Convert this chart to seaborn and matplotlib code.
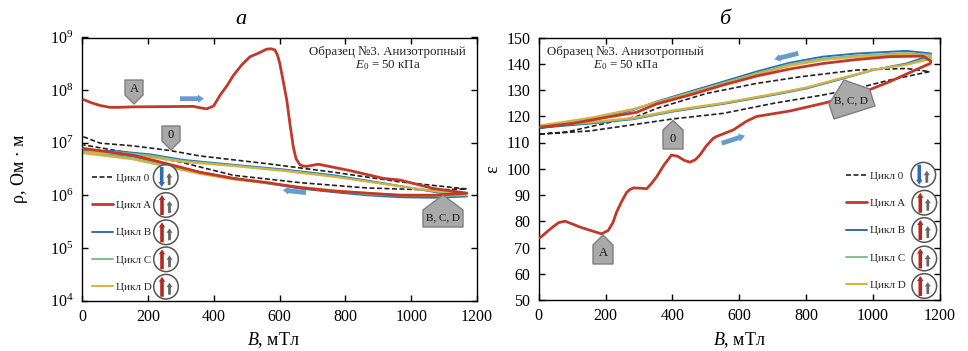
import matplotlib
matplotlib.use("Agg")
import matplotlib.pyplot as plt
import seaborn as sns
from matplotlib.patches import Circle, FancyArrow, Polygon

sns.set_theme(style="ticks")
plt.rcParams['font.family'] = ['Liberation Serif', 'DejaVu Serif']
plt.rcParams['mathtext.fontset'] = 'custom'
plt.rcParams['mathtext.rm'] = 'Liberation Serif'
plt.rcParams['mathtext.it'] = 'Liberation Serif:italic'

W, H = 968, 351

# --- панель а: rho(B) ---
rho_b_a = [5, 30, 55, 85, 110, 155, 338, 360, 379, 400, 420, 440, 460, 485, 510, 535, 561, 575, 586, 594, 601, 612, 622,
           632, 642, 650, 662, 672, 683, 718, 814, 915, 966, 1067, 1169,
           1067, 966, 865, 764, 662, 561, 460, 358, 257, 156, 4]
rho_a = [6.6e7, 5.7e7, 5.1e7, 4.7e7, 4.7e7, 4.8e7, 4.9e7, 4.6e7, 4.4e7, 5e7, 8.1e7, 1.2e8, 1.9e8, 3.0e8, 4.3e8, 5.0e8,
         6.0e8, 6.1e8, 5.8e8, 4.6e8, 3.2e8, 1.4e8, 6.5e7, 2.2e7, 8.3e6, 5e6, 3.8e6, 3.6e6, 3.55e6,
         3.9e6, 2.95e6, 2.1e6, 1.95e6, 1.35e6, 1.1e6,
         1.0e6, 1.0e6, 1.1e6, 1.2e6, 1.4e6, 1.75e6, 2.1e6, 2.75e6, 4e6, 5.75e6, 7.8e6]

rho_b_0 = [4, 55, 156, 267, 358, 561, 764, 966, 1169, 1067, 865, 662, 460, 298, 156, 55, 4]
rho_0 = [1.3e7, 9.8e6, 8.7e6, 7.1e6, 5.6e6, 4e6, 2.75e6, 1.8e6, 1.32e6,
         1.26e6, 1.38e6, 1.74e6, 2.4e6, 4.3e6, 6.2e6, 8e6, 9.1e6]

rho_b_loop = [4, 105, 207, 308, 460, 612, 764, 915, 1067, 1169, 1067, 966, 865, 764, 662, 561, 460, 358, 257, 156, 4]
rho_bb = [7.1e6, 6.9e6, 6e6, 4.7e6, 3.8e6, 3.1e6, 2.4e6, 1.7e6, 1.17e6, 0.95e6,
          0.9e6, 0.92e6, 1.0e6, 1.15e6, 1.35e6, 1.7e6, 2.1e6, 2.75e6, 3.9e6, 5.4e6, 7.0e6]
rho_c = [6.8e6, 6.6e6, 5.7e6, 4.5e6, 3.7e6, 3.0e6, 2.3e6, 1.65e6, 1.2e6, 1.0e6,
         0.97e6, 0.98e6, 1.05e6, 1.2e6, 1.4e6, 1.7e6, 2.05e6, 2.65e6, 3.7e6, 5.1e6, 6.6e6]
rho_d = [6.5e6, 6.2e6, 5.3e6, 4.3e6, 3.6e6, 2.9e6, 2.25e6, 1.65e6, 1.22e6, 1.05e6,
         1.02e6, 1.03e6, 1.1e6, 1.25e6, 1.45e6, 1.7e6, 2.0e6, 2.55e6, 3.5e6, 4.8e6, 6.3e6]

# --- панель б: eps(B) ---
eps_b_a = [4, 25, 44, 60, 79, 100, 123, 155, 188, 208, 222, 233, 248, 263, 272, 283, 303, 323, 338, 353, 375, 397, 415,
           435, 452, 468, 482, 500, 522, 532, 582, 620, 651, 751, 850, 950, 1050,
           1149, 1171, 1173, 1149, 1050, 950, 850, 751, 651, 552, 452, 353, 293, 203, 104, 4]
eps_a = [73.7, 76, 78, 79.5, 80, 79, 77.8, 76.5, 75.2, 76.5, 79.5, 83.5, 87.5, 91, 92, 92.7, 92.6, 92.4, 94.5, 97, 101.5,
         105.2, 104.8, 103.2, 102.5, 103.4, 105.2, 108.5, 111.6, 112.3, 114.8, 118, 119.9, 122,
         124.9, 128.1, 133.2, 138.9, 140.1, 141, 142.9, 142.7, 141.6, 140.1, 138, 135.3, 131.9, 128.1, 124.7, 121.5,
         119.6, 117.3, 115.8]

eps_b_0 = [4, 153, 402, 552, 701, 850, 950, 1050, 1169, 1100, 950, 781, 651, 502, 353, 293, 153, 84, 4]
eps_0 = [113.2, 114.4, 119, 121.1, 124.9, 128.1, 130.6, 133.8, 137, 138.2, 137.6, 135, 132.5, 128.7, 123, 119.9, 116,
         114, 113.2]

eps_b_loop = [4, 153, 283, 402, 552, 701, 801, 900, 1000, 1100, 1173, 1173, 1100, 950, 850, 751, 651, 552, 452, 353,
              283, 153, 4]
eps_bb = [115.6, 117.2, 118.9, 121.8, 124.7, 128.1, 130.6, 134, 137.6, 140.1, 143.3, 143.9, 144.9, 143.9, 142.7, 140.4,
          137, 133.2, 129.4, 125.6, 122.4, 118.4, 115.5]
eps_c = [116, 117.5, 119.1, 122, 124.9, 128.3, 130.8, 134.2, 137.6, 139.8, 142.4, 143.4, 144.1, 143.1, 142, 139.8,
         136.4, 132.7, 129, 125.4, 122.6, 118.9, 116]
eps_d = [116.3, 117.8, 119.4, 122.3, 125.1, 128.5, 131, 134.4, 137.7, 139.6, 141.8, 142.9, 143.6, 142.6, 141.4, 139.2,
         135.9, 132.3, 128.6, 125.3, 122.8, 119.4, 116.5]

legend_labels = ["Цикл 0", "Цикл A", "Цикл B", "Цикл C", "Цикл D"]
colors = {"0": "#222222", "A": "#c0392b", "B": "#2f6db0", "C": "#7fbf93", "D": "#d9b13b"}

left_ticks = [0, 200, 400, 600, 800, 1000, 1200]


def make_axes(x0, y0, x1, y1):
    ax = fig.add_axes([x0 / W, 1 - y1 / H, (x1 - x0) / W, (y1 - y0) / H])
    ax.set_facecolor("white")
    ax.tick_params(direction="in", top=True, right=True, length=4, width=1, labelsize=11.5, colors="black", pad=6)
    ax.tick_params(which="minor", length=0)
    for s in ax.spines.values():
        s.set_linewidth(1)
        s.set_color("black")
    return ax


def draw_curves(ax, b0, y0, bl, yb, yc, yd, ba, ya):
    kw = dict(sort=False, estimator=None, ax=ax, solid_joinstyle="round")
    sns.lineplot(x=b0, y=y0, sort=False, estimator=None, ax=ax, color=colors["0"], lw=1.2, ls=(0, (3, 1.5)),
                 label=legend_labels[0])
    sns.lineplot(x=ba, y=ya, color=colors["A"], lw=2.0, label=legend_labels[1], zorder=4, **kw)
    sns.lineplot(x=bl, y=yb, color=colors["B"], lw=1.4, label=legend_labels[2], **kw)
    sns.lineplot(x=bl, y=yc, color=colors["C"], lw=1.4, label=legend_labels[3], **kw)
    sns.lineplot(x=bl, y=yd, color=colors["D"], lw=1.4, label=legend_labels[4], **kw)


def place_legend(ax, x, y):
    ax.legend(loc="upper left", bbox_to_anchor=(x / W, 1 - y / H), bbox_transform=fig.transFigure, frameon=False,
              fontsize=8, labelspacing=1.58, handlelength=1.85, handletextpad=0.3, borderpad=0, borderaxespad=0)


def callout(pts, text, tx, ty, size=9):
    over.add_patch(Polygon(pts, closed=True, fc="#a9a9a9", ec="#7f7f7f", lw=1))
    over.text(tx, ty, text, ha="center", va="center", fontsize=size, color="#111111")


def blue_arrow(x0, y0, x1, y1):
    over.add_patch(FancyArrow(x0, y0, x1 - x0, y1 - y0, width=4.8, head_width=8, head_length=6,
                              length_includes_head=True, fc="#6a9bcf", ec="none"))


def cycle_icon(cx, cy, big_color, down=False):
    over.add_patch(Circle((cx, cy), 12.3, fc="white", ec="#555555", lw=1.1))
    if down:
        yy, dy = cy - 10, 20
    else:
        yy, dy = cy + 10, -20
    over.add_patch(FancyArrow(cx - 4, yy, 0, dy, width=3.6, head_width=6.5, head_length=5,
                              length_includes_head=True, fc=big_color, ec="none"))
    over.add_patch(FancyArrow(cx + 3.5, cy + 8, 0, -12, width=2.8, head_width=6, head_length=4.5,
                              length_includes_head=True, fc="#666666", ec="none"))


fig = plt.figure(figsize=(W / 100, H / 100), dpi=100, facecolor="white")

# панель а
ax1 = make_axes(82, 37.5, 477, 300.5)
draw_curves(ax1, rho_b_0, rho_0, rho_b_loop, rho_bb, rho_c, rho_d, rho_b_a, rho_a)
ax1.set_yscale("log")
ax1.set_xlim(0, 1200)
ax1.set_ylim(1e4, 1e9)
ax1.set_xticks(left_ticks)
ax1.set_xlabel("$B$, мТл", fontsize=13, labelpad=4, color="black", x=0.484)
ax1.set_ylabel("ρ, Ом · м", fontsize=13, labelpad=16, color="black")
ax1.set_title("а", fontsize=16, style="italic", pad=10, color="black", x=0.403)
place_legend(ax1, 92, 173)
ax1.text(0.774, 0.945, "Образец №3. Анизотропный", transform=ax1.transAxes, ha="center", va="center", fontsize=9.3,
         color="#222222")
ax1.text(0.774, 0.894, "$E_0$ = 50 кПа", transform=ax1.transAxes, ha="center", va="center", fontsize=9.3,
         color="#222222")

# панель б
ax2 = make_axes(538.7, 37.5, 940, 300)
draw_curves(ax2, eps_b_0, eps_0, eps_b_loop, eps_bb, eps_c, eps_d, eps_b_a, eps_a)
ax2.set_xlim(0, 1200)
ax2.set_ylim(50, 150)
ax2.set_xticks(left_ticks)
ax2.set_yticks(range(50, 151, 10))
ax2.set_xlabel("$B$, мТл", fontsize=13, labelpad=4, color="black")
ax2.set_ylabel("ε", fontsize=13, labelpad=4, color="black")
ax2.set_title("б", fontsize=16, style="italic", pad=10, color="black", x=0.464)
place_legend(ax2, 846, 171)
ax2.text(0.215, 0.945, "Образец №3. Анизотропный", transform=ax2.transAxes, ha="center", va="center", fontsize=9.3,
         color="#222222")
ax2.text(0.218, 0.894, "$E_0$ = 50 кПа", transform=ax2.transAxes, ha="center", va="center", fontsize=9.3,
         color="#222222")

# слой в пикселях для выносок, стрелок и значков
over = fig.add_axes([0, 0, 1, 1], facecolor="none")
over.set_xlim(0, W)
over.set_ylim(H, 0)
over.axis("off")

callout([(125, 80), (143, 80), (143, 95), (134, 104), (125, 95)], "A", 134, 89.5)
callout([(162, 126), (180, 126), (180, 141), (171, 150), (162, 141)], "0", 171, 135)
callout([(443, 195), (463, 210), (463, 227), (423, 227), (423, 210)], "B, C, D", 443, 217.5, size=8)
callout([(673, 120.5), (683, 130), (683, 149), (663, 149), (663, 130)], "0", 672.5, 139)
callout([(603, 235), (613, 245), (613, 264), (593, 264), (593, 245)], "A", 603, 253.5)
callout([(844, 80), (869.5, 89), (875, 106), (834, 119), (829, 104)], "B, C, D", 851, 101, size=8)

blue_arrow(180, 98.7, 204, 98.7)
blue_arrow(306, 192.7, 282.7, 190)
blue_arrow(798.3, 53.3, 774.3, 59.3)
blue_arrow(721.7, 143.3, 745, 135.7)

cycle_icon(165.7, 177, colors["B"], down=True)
for cy in [205, 232.3, 259.3, 286.7]:
    cycle_icon(166, cy, "#b5281e")
cycle_icon(923.3, 174.7, colors["B"], down=True)
for cy in [202.7, 230, 258.5, 286]:
    cycle_icon(924.3, cy, "#b5281e")

plt.savefig("out.png", dpi=100)
plt.close()
